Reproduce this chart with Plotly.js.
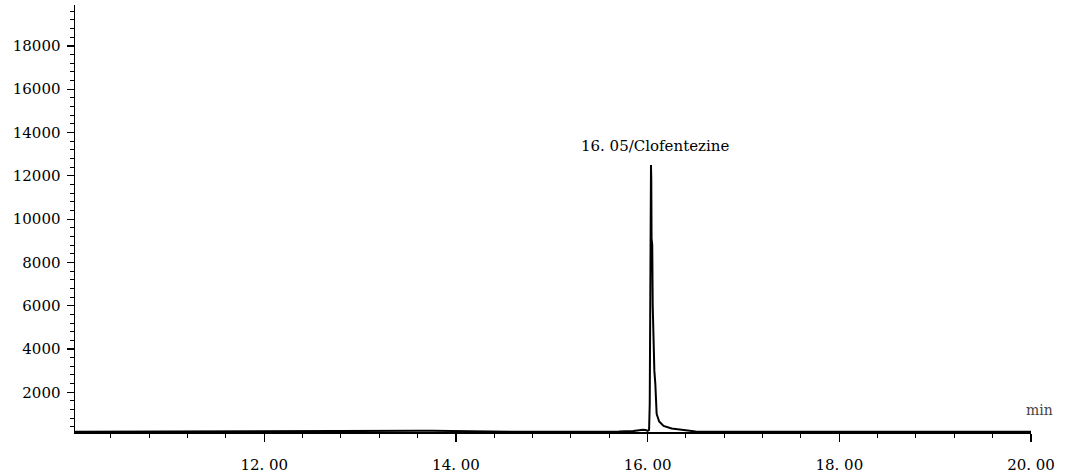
<!DOCTYPE html>
<html>
<head>
<meta charset="utf-8">
<script src="https://cdn.plot.ly/plotly-3.0.1.min.js"></script>
<style>html,body{margin:0;padding:0;background:#fff;}#chart{width:1075px;height:474px;}</style>
</head>
<body>
<div id="chart"></div>
<script>
// Retention time (min) and detector response (abundance)
const retentionTime = [10.025, 10.5, 11.0, 11.5, 12.0, 12.5, 13.0, 13.3, 13.45, 13.6, 13.75, 13.9, 14.0, 14.2, 14.6, 15.0, 15.4, 15.7, 15.85, 15.9, 15.95, 15.98, 16.0, 16.015, 16.022, 16.026, 16.028, 16.03, 16.032, 16.035, 16.038, 16.041, 16.044, 16.048, 16.053, 16.06, 16.07, 16.08, 16.094, 16.12, 16.166, 16.25, 16.395, 16.5, 16.8, 17.2, 17.6, 18.0, 18.5, 19.0, 19.5, 20.0];
const abundance     = [175, 178, 172, 180, 176, 182, 185, 200, 215, 220, 225, 215, 195, 185, 178, 182, 178, 185, 210, 250, 265, 255, 220, 260, 1500, 5000, 7900, 8000, 10500, 12500, 11800, 9100, 8900, 8800, 6000, 4000, 3000, 2400, 1000, 650, 450, 330, 230, 190, 178, 176, 178, 175, 180, 178, 176, 175];

const xTickVals = [12, 14, 16, 18, 20];
const xTickText = ["12. 00", "14. 00", "16. 00", "18. 00", "20. 00"];
const yTickVals = [2000, 4000, 6000, 8000, 10000, 12000, 14000, 16000, 18000];
const yTickText = ["2000", "4000", "6000", "8000", "10000", "12000", "14000", "16000", "18000"];

const peakTime = 16.035;
const peakHeight = 12500;
const peakLabel = "16. 05/Clofentezine";
const unitLabel = "min";

const fontFamily = "'DejaVu Serif', 'Liberation Serif', serif";

const trace = {
  x: retentionTime,
  y: abundance,
  type: 'scatter',
  mode: 'lines',
  line: {color: '#000', width: 2},
  hoverinfo: 'skip'
};

const layout = {
  width: 1075,
  height: 474,
  margin: {l: 75, r: 44, t: 5, b: 42},
  paper_bgcolor: '#fff',
  plot_bgcolor: '#fff',
  showlegend: false,
  font: {family: fontFamily, size: 15, color: '#000'},
  xaxis: {
    range: [10.025, 20.0],
    showgrid: false,
    zeroline: false,
    showline: true,
    linecolor: '#000',
    linewidth: 1.5,
    ticks: 'outside',
    ticklen: 8,
    tickwidth: 1.3,
    tickcolor: '#000',
    tickmode: 'array',
    tickvals: xTickVals,
    ticktext: xTickText,
    ticklabelstandoff: 10,
    tickfont: {family: fontFamily, size: 15, color: '#000'},
    minor: {ticks: 'outside', ticklen: 4, tickwidth: 1, tickcolor: '#000', tickmode: 'linear', tick0: 0, dtick: 0.4, showgrid: false}
  },
  yaxis: {
    range: [166, 19889],
    showgrid: false,
    zeroline: false,
    showline: true,
    linecolor: '#000',
    linewidth: 1.5,
    ticks: 'outside',
    ticklen: 7,
    tickwidth: 1.2,
    tickcolor: '#000',
    tickmode: 'array',
    tickvals: yTickVals,
    ticktext: yTickText,
    ticklabelstandoff: 3,
    tickfont: {family: fontFamily, size: 15, color: '#000'},
    minor: {ticks: 'outside', ticklen: 4, tickwidth: 1, tickcolor: '#000', tickmode: 'linear', tick0: 0, dtick: 400, showgrid: false}
  },
  annotations: [
    {
      x: peakTime, y: peakHeight, xref: 'x', yref: 'y',
      text: peakLabel, showarrow: false,
      xanchor: 'center', yanchor: 'bottom', yshift: 8, xshift: 4,
      font: {family: fontFamily, size: 15, color: '#000'}
    },
    {
      x: 1, y: 0, xref: 'paper', yref: 'paper',
      text: unitLabel, showarrow: false,
      xanchor: 'center', yanchor: 'bottom', xshift: 8, yshift: 12,
      font: {family: fontFamily, size: 14, color: '#444'}
    }
  ]
};

Plotly.newPlot('chart', [trace], layout, {staticPlot: true, displayModeBar: false});
</script>
</body>
</html>
